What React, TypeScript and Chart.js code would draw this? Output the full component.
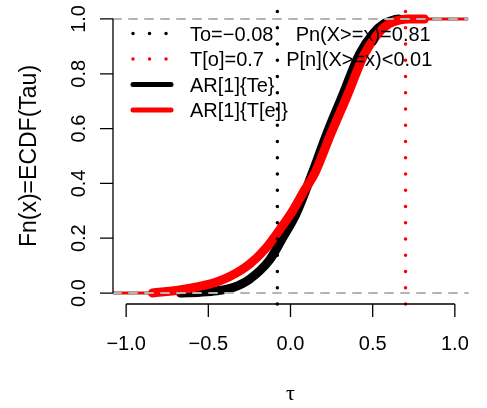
import React, { useEffect, useRef } from "react";
import { Chart, registerables } from "chart.js";

Chart.register(...registerables);

// ---- data ----
const tauBlack = [-0.67, -0.55, -0.45, -0.35, -0.25, -0.128, -0.049, 0.035, 0.134, 0.22, 0.316, 0.42, 0.5, 0.57, 0.63, 0.66];
const ecdfBlack = [0.0, 0.003, 0.008, 0.02, 0.05, 0.12, 0.2, 0.29, 0.44, 0.58, 0.72, 0.872, 0.945, 0.983, 0.997, 1.0];

const tauRed = [-0.84, -0.675, -0.553, -0.45, -0.37, -0.25, -0.148, -0.067, 0.013, 0.08, 0.15, 0.245, 0.345, 0.45, 0.53, 0.6, 0.67, 0.72, 0.815];
const ecdfRed = [0.0, 0.011, 0.024, 0.04, 0.06, 0.105, 0.165, 0.23, 0.3, 0.37, 0.44, 0.58, 0.72, 0.872, 0.945, 0.983, 0.997, 1.0, 1.0];

const tauObserved = -0.08; // To
const tauObservedRed = 0.7; // T[o]
const hLines = [0, 1];

const xLimits = [-1.08, 1.08];
const yLimits = [-0.04, 1.04];

const xTicks = [-1, -0.5, 0, 0.5, 1];
const xTickLabels = ["\u22121.0", "\u22120.5", "0.0", "0.5", "1.0"];
const yTicks = [0, 0.2, 0.4, 0.6, 0.8, 1];
const yTickLabels = ["0.0", "0.2", "0.4", "0.6", "0.8", "1.0"];

const xTitle = "\u03c4";
const yTitle = "Fn(x)=ECDF(Tau)";

const legendLabels = [
  "To=\u22120.08    Pn(X>=x)=0.81",
  "T[o]=0.7    P[n](X>=x)<0.01",
  "AR[1]{Te}",
  "AR[1]{T[e]}",
];
const legendColors = ["#000000", "#ff0000", "#000000", "#ff0000"];
const legendDotted = [true, true, false, false];

const FONT = '"Liberation Sans", Arial, Helvetica, sans-serif';
const GRAY = "#b4b4b4";
const RED = "#ff0000";
const BLACK = "#000000";

const toPoints = (xs: number[], ys: number[]) => xs.map((v, i) => ({ x: v, y: ys[i] }));

const decorPlugin = {
  id: "decor",
  afterDraw(chart: any) {
    const { ctx, chartArea } = chart;
    const xs = chart.scales.x;
    const ys = chart.scales.y;
    ctx.save();
    ctx.strokeStyle = BLACK;
    ctx.fillStyle = BLACK;
    ctx.lineWidth = 1.3;
    ctx.lineCap = "butt";
    ctx.setLineDash([]);

    // x axis
    const ax = chartArea.bottom;
    ctx.beginPath();
    ctx.moveTo(xs.getPixelForValue(xTicks[0]), ax);
    ctx.lineTo(xs.getPixelForValue(xTicks[xTicks.length - 1]), ax);
    xTicks.forEach((t) => {
      const p = xs.getPixelForValue(t);
      ctx.moveTo(p, ax);
      ctx.lineTo(p, ax + 13);
    });
    ctx.stroke();
    ctx.font = `20px ${FONT}`;
    ctx.textAlign = "center";
    ctx.textBaseline = "alphabetic";
    xTicks.forEach((t, i) => {
      ctx.fillText(xTickLabels[i], xs.getPixelForValue(t), ax + 46);
    });

    // y axis
    const ay = chartArea.left;
    ctx.beginPath();
    ctx.moveTo(ay, ys.getPixelForValue(yTicks[0]));
    ctx.lineTo(ay, ys.getPixelForValue(yTicks[yTicks.length - 1]));
    yTicks.forEach((t) => {
      const p = ys.getPixelForValue(t);
      ctx.moveTo(ay, p);
      ctx.lineTo(ay - 13, p);
    });
    ctx.stroke();
    yTicks.forEach((t, i) => {
      ctx.save();
      ctx.translate(ay - 28, ys.getPixelForValue(t));
      ctx.rotate(-Math.PI / 2);
      ctx.fillText(yTickLabels[i], 0, 0);
      ctx.restore();
    });

    // axis titles
    ctx.font = `22px "Liberation Serif", serif`;
    ctx.fillText(xTitle, xs.getPixelForValue(0), 400);
    ctx.save();
    ctx.font = `23px ${FONT}`;
    ctx.translate(36, (chartArea.top + chartArea.bottom) / 2);
    ctx.rotate(-Math.PI / 2);
    ctx.fillText(yTitle, 0, 0);
    ctx.restore();

    // legend
    const rowY0 = 33.5;
    const rowStep = 25.5;
    ctx.font = `20px ${FONT}`;
    ctx.textAlign = "left";
    legendLabels.forEach((lab, i) => {
      const yy = rowY0 + i * rowStep;
      ctx.save();
      ctx.strokeStyle = legendColors[i];
      ctx.beginPath();
      if (legendDotted[i]) {
        ctx.lineWidth = 3.5;
        ctx.lineCap = "round";
        ctx.setLineDash([0.01, 16.5]);
        ctx.moveTo(133, yy);
        ctx.lineTo(167, yy);
      } else {
        ctx.lineWidth = 5;
        ctx.lineCap = "round";
        ctx.setLineDash([]);
        ctx.moveTo(133, yy);
        ctx.lineTo(171, yy);
      }
      ctx.stroke();
      ctx.restore();
      ctx.fillStyle = BLACK;
      ctx.fillText(lab, 190, yy + 7);
    });
    ctx.restore();
  },
};

export default function App() {
  const ref = useRef<HTMLCanvasElement | null>(null);
  useEffect(() => {
    if (!ref.current) return;
    const hl = (yv: number) => ({
      data: [
        { x: xLimits[0], y: yv },
        { x: xLimits[1], y: yv },
      ],
      borderColor: GRAY,
      borderWidth: 2,
      borderDash: [8, 8],
      borderCapStyle: "round",
      pointRadius: 0,
      showLine: true,
      clip: false,
    });
    const vl = (xv: number, color: string) => ({
      data: [
        { x: xv, y: yLimits[0] },
        { x: xv, y: yLimits[1] },
      ],
      borderColor: color,
      borderWidth: 3.5,
      borderDash: [0.01, 16.24],
      borderCapStyle: "round",
      pointRadius: 0,
      showLine: true,
      clip: false,
    });
    const tail = (x0: number, x1: number, yv: number, color: string) => ({
      data: [
        { x: x0, y: yv },
        { x: x1, y: yv },
      ],
      borderColor: color,
      borderWidth: 2.5,
      pointRadius: 0,
      showLine: true,
    });
    const curve = (xsArr: number[], ysArr: number[], color: string) => ({
      data: toPoints(xsArr, ysArr),
      borderColor: color,
      borderWidth: 9,
      borderCapStyle: "round",
      borderJoinStyle: "round",
      cubicInterpolationMode: "monotone",
      pointRadius: 0,
      showLine: true,
      clip: false,
    });
    // first dataset is drawn on top
    const datasets: any[] = [
      ...hLines.map((h) => hl(h)),
      vl(tauObservedRed, RED),
      vl(tauObserved, BLACK),
      tail(xLimits[0], tauRed[0], 0, RED),
      tail(tauRed[tauRed.length - 1], xLimits[1], 1, RED),
      curve(tauRed, ecdfRed, RED),
      tail(xLimits[0], tauBlack[0], 0, BLACK),
      tail(tauBlack[tauBlack.length - 1], xLimits[1], 1, BLACK),
      curve(tauBlack, ecdfBlack, BLACK),
    ];
    const chart = new Chart(ref.current, {
      type: "scatter",
      data: { datasets },
      options: {
        responsive: false,
        animation: false,
        devicePixelRatio: 1,
        layout: { padding: { left: 113, right: 19, top: 8, bottom: 104 } },
        plugins: { legend: { display: false }, tooltip: { enabled: false } },
        scales: {
          x: { type: "linear", min: xLimits[0], max: xLimits[1], display: false },
          y: { type: "linear", min: yLimits[0], max: yLimits[1], display: false },
        },
      },
      plugins: [decorPlugin],
    } as any);
    return () => chart.destroy();
  }, []);
  return (
    <div style={{ position: "absolute", left: 0, top: 0, width: 487, height: 408, background: "#fff" }}>
      <canvas ref={ref} width={487} height={408} />
    </div>
  );
}
